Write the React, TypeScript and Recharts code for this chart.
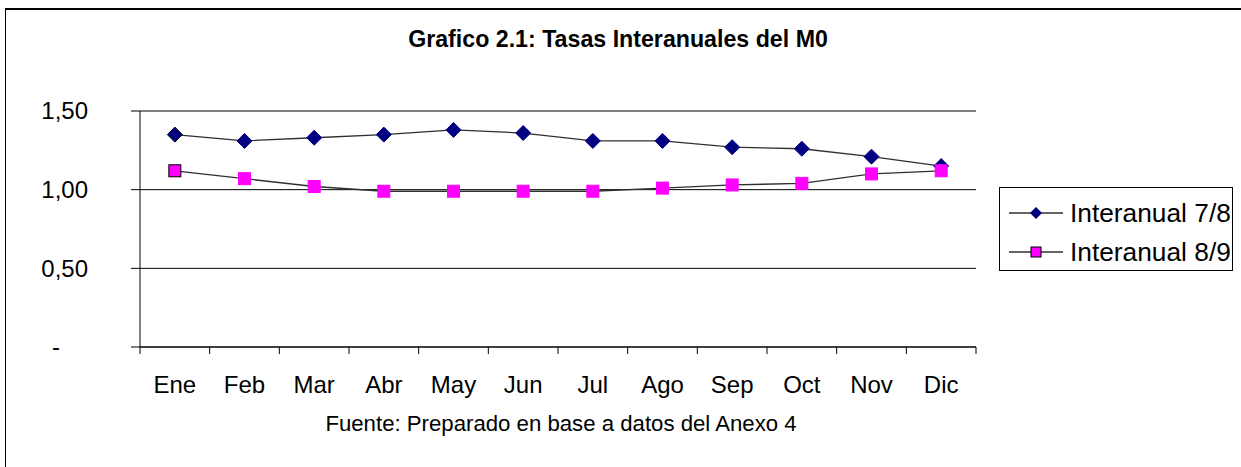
import React from 'react';
import { LineChart, Line, XAxis, YAxis, CartesianGrid, Legend } from 'recharts';

const months = ['Ene', 'Feb', 'Mar', 'Abr', 'May', 'Jun', 'Jul', 'Ago', 'Sep', 'Oct', 'Nov', 'Dic'];
const interanual78 = [1.35, 1.31, 1.33, 1.35, 1.38, 1.36, 1.31, 1.31, 1.27, 1.26, 1.21, 1.15];
const interanual89 = [1.12, 1.07, 1.02, 0.99, 0.99, 0.99, 0.99, 1.01, 1.03, 1.04, 1.1, 1.12];
const yTicks = [0, 0.5, 1, 1.5];
const xTicks: number[] = [];
for (let i = 0; i <= months.length; i++) {
  xTicks.push(i);
  if (i < months.length) xTicks.push(i + 0.5);
}

const data = months.map((m, i) => ({ pos: i + 0.5, month: m, a: interanual78[i], b: interanual89[i] }));

const FONT = '"Liberation Sans", Arial, sans-serif';
const NAVY = '#000080';
const MAGENTA = '#FF00FF';
const LINE = '#303030';

const DiamondDot = (props: any) => {
  const { cx, cy, index } = props;
  if (cx == null || cy == null) return null;
  const r = 7.5;
  return (
    <polygon
      key={`d${index}`}
      points={`${cx},${cy - r} ${cx + r},${cy} ${cx},${cy + r} ${cx - r},${cy}`}
      fill={NAVY}
      stroke={index === 0 ? '#000' : NAVY}
      strokeWidth={1}
    />
  );
};

const SquareDot = (props: any) => {
  const { cx, cy, index } = props;
  if (cx == null || cy == null) return null;
  const s = 12;
  return (
    <rect
      key={`s${index}`}
      x={cx - s / 2}
      y={cy - s / 2}
      width={s}
      height={s}
      fill={MAGENTA}
      stroke={index === 0 ? '#000' : MAGENTA}
      strokeWidth={1}
    />
  );
};

const YTick = (props: any) => {
  const { x, y, payload } = props;
  const v = payload.value as number;
  if (v === 0) {
    return (
      <text x={x - 32} y={y} dy="0.35em" textAnchor="middle" fontSize={24} fontFamily={FONT} fill="#000">
        -
      </text>
    );
  }
  return (
    <text x={x} y={y} dy="0.35em" textAnchor="end" fontSize={24} fontFamily={FONT} fill="#000">
      {v.toFixed(2).replace('.', ',')}
    </text>
  );
};

const XTick = (props: any) => {
  const { x, y, payload } = props;
  const v = payload.value as number;
  if (Number.isInteger(v)) {
    return <line x1={x} x2={x} y1={y - 7} y2={y} stroke="#000" strokeWidth={1} />;
  }
  return (
    <text x={x} y={y + 39} textAnchor="middle" fontSize={24} fontFamily={FONT} fill="#000">
      {months[Math.floor(v)]}
    </text>
  );
};

const LegendBox = () => (
  <div style={{ border: '1px solid #000', width: 232, height: 82, background: '#fff' }}>
    <svg width={232} height={82}>
      <line x1={9} x2={63} y1={25} y2={25} stroke={LINE} strokeWidth={1.3} />
      <polygon points="36,19 42,25 36,31 30,25" fill={NAVY} />
      <text x={70} y={34} fontSize={26.3} fontFamily={FONT} fill="#000">Interanual 7/8</text>
      <line x1={9} x2={63} y1={64} y2={64} stroke={LINE} strokeWidth={1.3} />
      <rect x={31} y={59} width={10} height={10} fill={MAGENTA} stroke="#000" strokeWidth={1} />
      <text x={70} y={73} fontSize={26.3} fontFamily={FONT} fill="#000">Interanual 8/9</text>
    </svg>
  </div>
);

export default function App() {
  return (
    <div style={{ position: 'absolute', left: 0, top: 0, width: 1241, height: 467, overflow: 'hidden', background: '#fff', fontFamily: FONT }}>
      <div style={{ position: 'absolute', left: 5, top: 8, width: 1400, height: 600, borderTop: '2px solid #000', borderLeft: '1.5px solid #000' }} />
      <div style={{ position: 'absolute', left: 0, top: 0 }}>
        <LineChart width={1241} height={467} data={data} margin={{ top: 111, right: 265, bottom: 60, left: 0 }}>
          <CartesianGrid vertical={false} stroke="#000" strokeWidth={1} />
          <XAxis
            dataKey="pos"
            type="number"
            domain={[0, 12]}
            ticks={xTicks}
            interval={0}
            height={60}
            tickSize={7}
            tickMargin={0}
            tickLine={false}
            axisLine={{ stroke: '#000', strokeWidth: 1 }}
            tick={<XTick />}
            allowDataOverflow
          />
          <YAxis
            domain={[0, 1.5]}
            ticks={yTicks}
            width={140}
            tickSize={9}
            tickMargin={43}
            tickLine={{ stroke: '#000' }}
            axisLine={{ stroke: '#000', strokeWidth: 1 }}
            tick={<YTick />}
            interval={0}
          />
          <YAxis
            yAxisId="r"
            orientation="right"
            domain={[0, 1.5]}
            width={0}
            tick={false}
            tickLine={false}
            axisLine={{ stroke: '#808080', strokeWidth: 1 }}
          />
          <Legend
            layout="horizontal"
            verticalAlign="middle"
            align="center"
            content={<LegendBox />}
            wrapperStyle={{ left: 999, top: 187, width: 234, right: 'auto', bottom: 'auto' }}
          />
          <Line
            dataKey="a"
            name="Interanual 7/8"
            stroke={LINE}
            strokeWidth={1.3}
            dot={<DiamondDot />}
            activeDot={false}
            isAnimationActive={false}
          />
          <Line
            dataKey="b"
            name="Interanual 8/9"
            stroke={LINE}
            strokeWidth={1.3}
            dot={<SquareDot />}
            activeDot={false}
            isAnimationActive={false}
          />
        </LineChart>
      </div>
      <svg width={1241} height={467} style={{ position: 'absolute', left: 0, top: 0, pointerEvents: 'none' }}>
        <text x={618} y={47} textAnchor="middle" fontSize={23.2} fontWeight="bold" fontFamily={FONT} fill="#000">
          Grafico 2.1: Tasas Interanuales del M0
        </text>
        <text x={561} y={431} textAnchor="middle" fontSize={22.2} fontFamily={FONT} fill="#000">
          Fuente: Preparado en base a datos del Anexo 4
        </text>
      </svg>
    </div>
  );
}
